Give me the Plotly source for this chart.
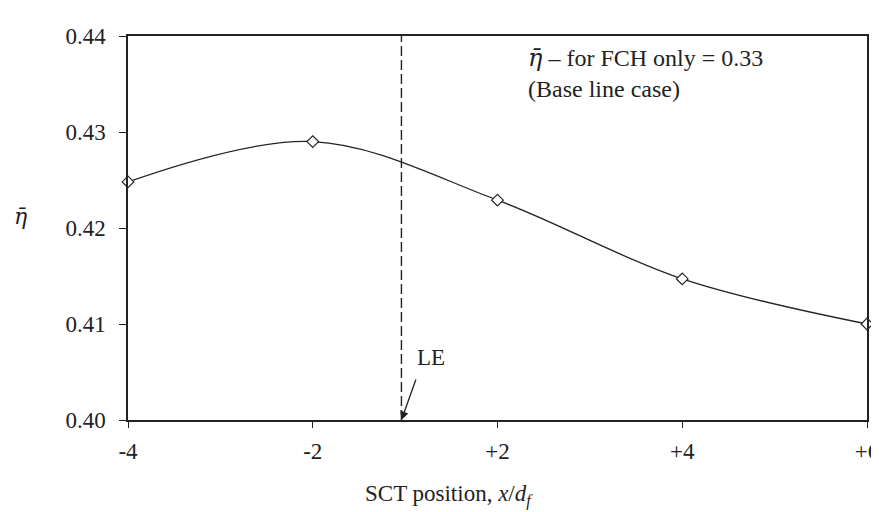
import plotly.graph_objects as go

categories = ["-4", "-2", "+2", "+4", "+6"]
eta_values = [0.4248, 0.4290, 0.4229, 0.4147, 0.4100]
y_ticks = [0.40, 0.41, 0.42, 0.43, 0.44]
y_ticktext = ["0.40", "0.41", "0.42", "0.43", "0.44"]
le_position = 1.48  # x/d_f = 0, between -2 and +2

idx = list(range(len(categories)))
FONT = "Liberation Serif, Times New Roman, serif"
ETA = '<span style="font-family:DejaVu Serif"><i>η̄</i></span>'

fig = go.Figure()
fig.add_trace(go.Scatter(
    x=idx, y=eta_values, mode="lines+markers",
    line=dict(color="#222222", width=1.3, shape="spline", smoothing=1.0),
    marker=dict(symbol="diamond", size=9, color="white",
                line=dict(color="#222222", width=1.2)),
    showlegend=False, cliponaxis=False,
))

fig.update_layout(
    width=871, height=502,
    margin=dict(l=120, r=12, t=28, b=90),
    paper_bgcolor="white", plot_bgcolor="white",
    font=dict(family=FONT, size=23, color="#222222"),
    xaxis=dict(
        range=[0, 4], tickmode="array", tickvals=idx, ticktext=categories,
        showline=True, linecolor="#222222", linewidth=1.5, mirror=True,
        ticks="outside", ticklen=6, tickcolor="#222222", tickwidth=1.2,
        showgrid=False, zeroline=False, tickfont=dict(size=23),
        ticklabeloverflow="allow", ticklabelstandoff=4, automargin=False,
    ),
    yaxis=dict(
        range=[0.40, 0.44], tickmode="array", tickvals=y_ticks, ticktext=y_ticktext,
        showline=True, linecolor="#222222", linewidth=1.5, mirror=True,
        ticks="outside", ticklen=7, tickcolor="#222222", tickwidth=1.2,
        showgrid=False, zeroline=False, tickfont=dict(size=23),
        ticklabelstandoff=9, automargin=False,
    ),
)

# dashed vertical line at leading edge
fig.add_shape(type="line", xref="x", yref="paper", x0=le_position, x1=le_position,
              y0=0, y1=1, line=dict(color="#222222", width=1.4, dash="10px,4px"))

# LE arrow + label
fig.add_annotation(x=le_position, y=0.40, xref="x", yref="y",
                   ax=15, ay=-42, showarrow=True, arrowhead=2, arrowsize=1.3,
                   arrowwidth=1.3, arrowcolor="#222222", text="")
fig.add_annotation(x=le_position, y=0.40, xref="x", yref="y", xshift=30, yshift=63,
                   text="LE", showarrow=False, font=dict(size=23))

# top-right note
fig.add_annotation(xref="paper", yref="paper", x=0.539, y=0.985, xanchor="left", yanchor="top",
                   align="left", showarrow=False, font=dict(size=24),
                   text=ETA + " – for FCH only = 0.33<br>(Base line case)")

# y-axis label
fig.add_annotation(xref="paper", yref="paper", x=-0.146, y=0.53, xanchor="center", yanchor="middle",
                   showarrow=False, text=ETA, font=dict(size=22))

# x-axis label
fig.add_annotation(xref="paper", yref="paper", x=0.435, y=-0.196, xanchor="center", yanchor="middle",
                   showarrow=False, font=dict(size=23),
                   text="SCT position, <i>x</i>/<i>d<sub>f</sub></i>")

fig.write_html("out.html")
